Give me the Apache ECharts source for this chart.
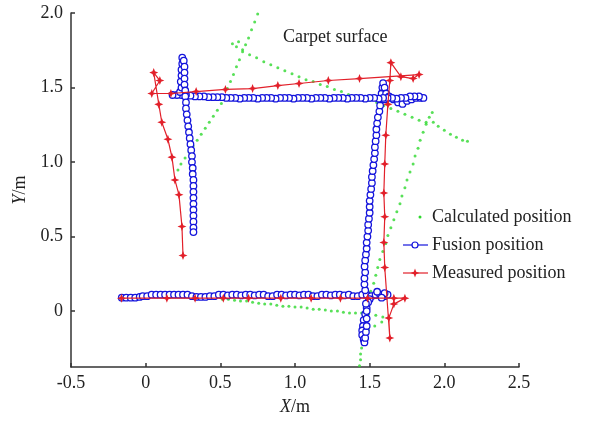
<!DOCTYPE html>
<html>
<head>
<meta charset="utf-8">
<script src="https://cdn.jsdelivr.net/npm/echarts@6/dist/echarts.min.js"></script>
<style>
  html, body { margin: 0; padding: 0; background: #fff; }
  #chart { width: 595px; height: 421px; }
</style>
</head>
<body>
<div id="chart"></div>
<script>
// tick labels
const xTicks = [-0.5, 0, 0.5, 1.0, 1.5, 2.0, 2.5];
const yTicks = [0, 0.5, 1.0, 1.5, 2.0];

// calculated position (green dots)
const calculated = [
    // bottom edge
    [0.514, 0.08], [0.554, 0.08], [0.595, 0.073], [0.635, 0.067], [0.676, 0.067], [0.716, 0.06],
    [0.757, 0.053], [0.797, 0.047], [0.838, 0.047], [0.878, 0.04], [0.919, 0.033], [0.959, 0.033],
    [1.0, 0.027], [1.041, 0.027], [1.081, 0.02], [1.122, 0.013], [1.162, 0.013], [1.203, 0.007],
    [1.243, 0], [1.284, 0], [1.324, -0.007], [1.365, -0.013], [1.405, -0.013],
    // bottom right turn
    [1.446, -0.013], [1.493, -0.02], [1.541, -0.027], [1.588, -0.04], [1.628, -0.047],
    [1.581, -0.073], [1.534, -0.1], [1.493, -0.127], [1.466, -0.167], [1.453, -0.207],
    [1.446, -0.247], [1.439, -0.287], [1.439, -0.327], [1.432, -0.367],
    // right side
    [1.486, 0.08], [1.507, 0.133], [1.527, 0.187], [1.541, 0.24], [1.554, 0.293], [1.568, 0.347],
    [1.588, 0.4], [1.608, 0.453], [1.622, 0.507], [1.642, 0.56], [1.662, 0.613], [1.682, 0.667],
    [1.703, 0.72], [1.716, 0.773], [1.736, 0.827], [1.75, 0.88], [1.77, 0.933], [1.791, 0.987],
    [1.804, 1.04], [1.824, 1.093], [1.838, 1.147], [1.858, 1.2], [1.878, 1.253], [1.899, 1.3],
    [1.919, 1.333],
    // right tail
    [1.926, 1.267], [1.959, 1.24], [2.0, 1.213], [2.041, 1.187], [2.081, 1.167], [2.122, 1.147],
    [2.155, 1.14],
    // top edge
    [1.878, 1.267], [1.831, 1.28], [1.784, 1.3], [1.736, 1.32], [1.689, 1.34], [1.642, 1.36],
    [1.595, 1.38], [1.547, 1.4], [1.5, 1.413], [1.453, 1.427], [1.405, 1.44], [1.358, 1.453],
    [1.311, 1.473], [1.264, 1.487], [1.216, 1.507], [1.169, 1.52], [1.122, 1.54], [1.074, 1.553],
    [1.027, 1.573], [0.98, 1.593], [0.932, 1.613], [0.885, 1.633], [0.838, 1.653], [0.791, 1.673],
    [0.743, 1.7], [0.696, 1.72], [0.649, 1.753], [0.608, 1.773], [0.581, 1.793], [0.622, 1.807],
    // left side
    [0.75, 1.993], [0.73, 1.94], [0.709, 1.887], [0.689, 1.833], [0.669, 1.787], [0.649, 1.74],
    [0.628, 1.687], [0.608, 1.64], [0.588, 1.587], [0.568, 1.54], [0.547, 1.493], [0.527, 1.447],
    [0.507, 1.393], [0.48, 1.347], [0.453, 1.307], [0.426, 1.267], [0.399, 1.227], [0.372, 1.187],
    [0.345, 1.147], [0.318, 1.107], [0.291, 1.067], [0.264, 1.027], [0.236, 0.987], [0.216, 0.947]
];

// fusion position (blue circles)
const fusion = [
    // bottom edge
    [-0.16, 0.09], [-0.13, 0.09], [-0.1, 0.09], [-0.07, 0.09], [-0.04, 0.095], [-0.02, 0.1],
    [0.01, 0.1], [0.04, 0.11], [0.07, 0.11], [0.1, 0.11], [0.13, 0.11], [0.16, 0.11], [0.19, 0.11],
    [0.22, 0.11], [0.25, 0.11], [0.28, 0.11], [0.31, 0.1], [0.34, 0.095], [0.37, 0.095], [0.4, 0.095],
    [0.43, 0.1], [0.46, 0.1], [0.49, 0.11], [0.52, 0.11], [0.55, 0.105], [0.58, 0.11], [0.61, 0.11],
    [0.64, 0.105], [0.67, 0.11], [0.7, 0.11], [0.73, 0.105], [0.76, 0.11], [0.79, 0.11], [0.82, 0.1],
    [0.85, 0.1], [0.88, 0.11], [0.91, 0.11], [0.94, 0.105], [0.97, 0.11], [1.0, 0.11], [1.03, 0.105],
    [1.06, 0.11], [1.09, 0.11], [1.12, 0.1], [1.15, 0.1], [1.18, 0.11], [1.21, 0.11], [1.24, 0.105],
    [1.27, 0.11], [1.3, 0.11], [1.33, 0.105], [1.36, 0.11], [1.39, 0.1], [1.42, 0.1], [1.45, 0.11],
    [1.48, 0.11], [1.51, 0.1], [1.54, 0.11], [1.57, 0.11], [1.6, 0.1], [1.62, 0.11], [1.6, 0.12],
    [1.55, 0.13], [1.58, 0.09], [1.5, 0.08],
    // right side, down then up
    [1.49, 0.06], [1.48, 0.02], [1.47, -0.02], [1.46, -0.06], [1.455, -0.1], [1.45, -0.13],
    [1.45, -0.16], [1.46, -0.19], [1.465, -0.21], [1.47, -0.18], [1.475, -0.14], [1.48, -0.1],
    [1.48, -0.05], [1.48, 0], [1.475, 0.05], [1.47, 0.14], [1.465, 0.18], [1.465, 0.22], [1.47, 0.26],
    [1.466, 0.3], [1.47, 0.34], [1.475, 0.38], [1.48, 0.42], [1.48, 0.46], [1.485, 0.5], [1.49, 0.54],
    [1.49, 0.58], [1.495, 0.62], [1.5, 0.66], [1.5, 0.7], [1.5, 0.74], [1.505, 0.78], [1.51, 0.82],
    [1.515, 0.86], [1.515, 0.9], [1.52, 0.94], [1.525, 0.98], [1.53, 1.02], [1.535, 1.06],
    [1.535, 1.1], [1.54, 1.14], [1.545, 1.18], [1.545, 1.22], [1.55, 1.26], [1.555, 1.3],
    [1.565, 1.34], [1.57, 1.38], [1.575, 1.42], [1.58, 1.46], [1.585, 1.5], [1.59, 1.53],
    [1.6, 1.5], [1.61, 1.46], [1.6, 1.42],
    // top right loop
    [1.63, 1.44], [1.66, 1.42], [1.69, 1.4], [1.72, 1.39], [1.75, 1.41], [1.78, 1.42], [1.81, 1.43],
    [1.84, 1.43], [1.86, 1.43], [1.83, 1.44], [1.8, 1.44], [1.77, 1.44],
    // top edge
    [1.74, 1.43], [1.71, 1.43], [1.68, 1.425], [1.65, 1.43], [1.62, 1.43], [1.59, 1.43], [1.56, 1.425],
    [1.53, 1.43], [1.5, 1.43], [1.47, 1.425], [1.44, 1.43], [1.41, 1.43], [1.38, 1.43], [1.35, 1.425],
    [1.32, 1.43], [1.29, 1.43], [1.26, 1.43], [1.23, 1.425], [1.2, 1.43], [1.17, 1.43], [1.14, 1.43],
    [1.11, 1.425], [1.08, 1.43], [1.05, 1.43], [1.02, 1.43], [0.99, 1.425], [0.96, 1.43], [0.93, 1.43],
    [0.9, 1.43], [0.87, 1.425], [0.84, 1.43], [0.81, 1.43], [0.78, 1.43], [0.75, 1.425], [0.72, 1.43],
    [0.69, 1.43], [0.66, 1.43], [0.63, 1.425], [0.6, 1.43], [0.57, 1.43], [0.54, 1.43], [0.51, 1.435],
    [0.48, 1.435], [0.45, 1.435], [0.42, 1.435], [0.39, 1.44], [0.36, 1.44], [0.33, 1.44],
    [0.3, 1.445], [0.27, 1.45], [0.24, 1.45], [0.21, 1.45], [0.18, 1.45],
    // left side
    [0.23, 1.47], [0.24, 1.5], [0.235, 1.54], [0.24, 1.58], [0.24, 1.62], [0.245, 1.66], [0.245, 1.7],
    [0.255, 1.68], [0.26, 1.64], [0.26, 1.6], [0.26, 1.56], [0.26, 1.52], [0.265, 1.48], [0.265, 1.44],
    [0.27, 1.4], [0.27, 1.36], [0.275, 1.32], [0.28, 1.28], [0.285, 1.24], [0.29, 1.2], [0.295, 1.16],
    [0.3, 1.12], [0.305, 1.08], [0.31, 1.04], [0.31, 1.0], [0.315, 0.96], [0.315, 0.92], [0.32, 0.88],
    [0.32, 0.84], [0.32, 0.8], [0.32, 0.76], [0.32, 0.72], [0.32, 0.68], [0.32, 0.64], [0.32, 0.6],
    [0.32, 0.56], [0.32, 0.53]
];

// measured position (red stars)
const measured = [
    [-0.162, 0.087], [0.142, 0.087], [0.331, 0.087], [0.52, 0.087], [0.689, 0.087], [0.905, 0.087],
    [1.108, 0.087], [1.304, 0.087], [1.486, 0.087], [1.662, 0.087], [1.736, 0.087], [1.662, 0.047],
    [1.628, -0.047], [1.635, -0.18],
    [1.601, 0.293], [1.595, 0.46], [1.601, 0.633], [1.595, 0.793], [1.601, 0.987], [1.608, 1.18],
    [1.622, 1.387], [1.635, 1.547], [1.642, 1.667], [1.709, 1.573], [1.791, 1.56], [1.831, 1.587],
    [1.432, 1.56], [1.223, 1.547], [1.027, 1.527], [0.885, 1.513], [0.716, 1.493], [0.534, 1.487],
    [0.338, 1.473], [0.169, 1.46], [0.041, 1.46], [0.095, 1.547], [0.054, 1.6],
    [0.088, 1.387], [0.108, 1.267], [0.149, 1.153], [0.176, 1.033], [0.196, 0.88], [0.223, 0.78],
    [0.243, 0.567], [0.25, 0.373]
];

const seriesNames = ['Calculated position', 'Fusion position', 'Measured position'];

const GREEN = '#2ed82e';
const BLUE = '#1414dc';
const RED = '#e2202a';
const FONT = 'Liberation Serif';
const FSIZE = 18;
const STAR = 'path://M0,-10 L2.8,-2.8 L10,0 L2.8,2.8 L0,10 L-2.8,2.8 L-10,0 L-2.8,-2.8 Z';

let chart = echarts.init(document.getElementById('chart'));

function legendRow(y, name, kind) {
    let children = [];
    if (kind === 'dot') {
        children.push({type: 'circle', shape: {cx: 420, cy: y, r: 1.5}, style: {fill: GREEN}});
    } else if (kind === 'circle') {
        children.push({type: 'line', shape: {x1: 403, y1: y, x2: 428, y2: y}, style: {stroke: BLUE, lineWidth: 1.2}});
        children.push({type: 'circle', shape: {cx: 415, cy: y, r: 3}, style: {fill: '#fff', stroke: BLUE, lineWidth: 1.2}});
    } else {
        children.push({type: 'line', shape: {x1: 403, y1: y, x2: 428, y2: y}, style: {stroke: RED, lineWidth: 1.2}});
        children.push({type: 'polygon', shape: {points: [[415, y - 4.5], [416.2, y - 1.2], [419.5, y], [416.2, y + 1.2], [415, y + 4.5], [413.8, y + 1.2], [410.5, y], [413.8, y - 1.2]]}, style: {fill: RED}});
    }
    children.push({type: 'text', x: 432, y: y, style: {text: name, font: FSIZE + 'px ' + FONT, fill: '#222', verticalAlign: 'middle'}});
    return {type: 'group', children: children};
}

const nameStyle = {
    fontFamily: FONT, fontSize: FSIZE, color: '#222',
    rich: {i: {fontStyle: 'italic', fontFamily: FONT, fontSize: FSIZE, color: '#222'}}
};

chart.setOption({
    animation: false,
    backgroundColor: '#fff',
    grid: {left: 71, right: 76, top: 13, bottom: 53},
    xAxis: {
        type: 'value',
        min: -0.5,
        max: 2.5,
        interval: 0.5,
        name: '{i|X}/m',
        nameLocation: 'middle',
        nameGap: 31,
        nameTextStyle: nameStyle,
        axisLine: {onZero: false, lineStyle: {color: '#333', width: 1.5}},
        axisTick: {inside: true, length: 4, lineStyle: {color: '#333', width: 1.5}},
        axisLabel: {
            margin: 7, fontFamily: FONT, fontSize: FSIZE, color: '#222',
            formatter: v => (v === 0 ? '0' : v.toFixed(1))
        },
        splitLine: {show: false}
    },
    yAxis: {
        type: 'value',
        min: -0.375,
        max: 2.0,
        name: '{i|Y}/m',
        nameLocation: 'middle',
        nameGap: 41,
        nameRotate: 90,
        nameTextStyle: nameStyle,
        axisLine: {onZero: false, lineStyle: {color: '#333', width: 1.5}},
        axisTick: {inside: true, length: 4, customValues: yTicks, lineStyle: {color: '#333', width: 1.5}},
        axisLabel: {
            margin: 8, fontFamily: FONT, fontSize: FSIZE, color: '#222', customValues: yTicks,
            formatter: v => (v === 0 ? '0' : v.toFixed(1))
        },
        splitLine: {show: false}
    },
    graphic: [
        {type: 'text', x: 283, y: 37, style: {text: 'Carpet surface', font: FSIZE + 'px ' + FONT, fill: '#222', verticalAlign: 'middle'}},
        legendRow(217, seriesNames[0], 'dot'),
        legendRow(245, seriesNames[1], 'circle'),
        legendRow(273, seriesNames[2], 'star')
    ],
    series: [
        {
            name: seriesNames[0],
            type: 'scatter',
            data: calculated,
            symbol: 'circle',
            symbolSize: 3,
            itemStyle: {color: GREEN},
            z: 2
        },
        {
            name: seriesNames[1],
            type: 'line',
            data: fusion,
            symbol: 'circle',
            symbolSize: 6.5,
            showAllSymbol: true,
            lineStyle: {color: BLUE, width: 1.2},
            itemStyle: {color: '#fff', borderColor: BLUE, borderWidth: 1.3},
            z: 3
        },
        {
            name: seriesNames[2],
            type: 'line',
            data: measured,
            symbol: STAR,
            symbolSize: 9,
            lineStyle: {color: RED, width: 1.2},
            itemStyle: {color: RED},
            z: 4
        }
    ]
});
</script>
</body>
</html>
